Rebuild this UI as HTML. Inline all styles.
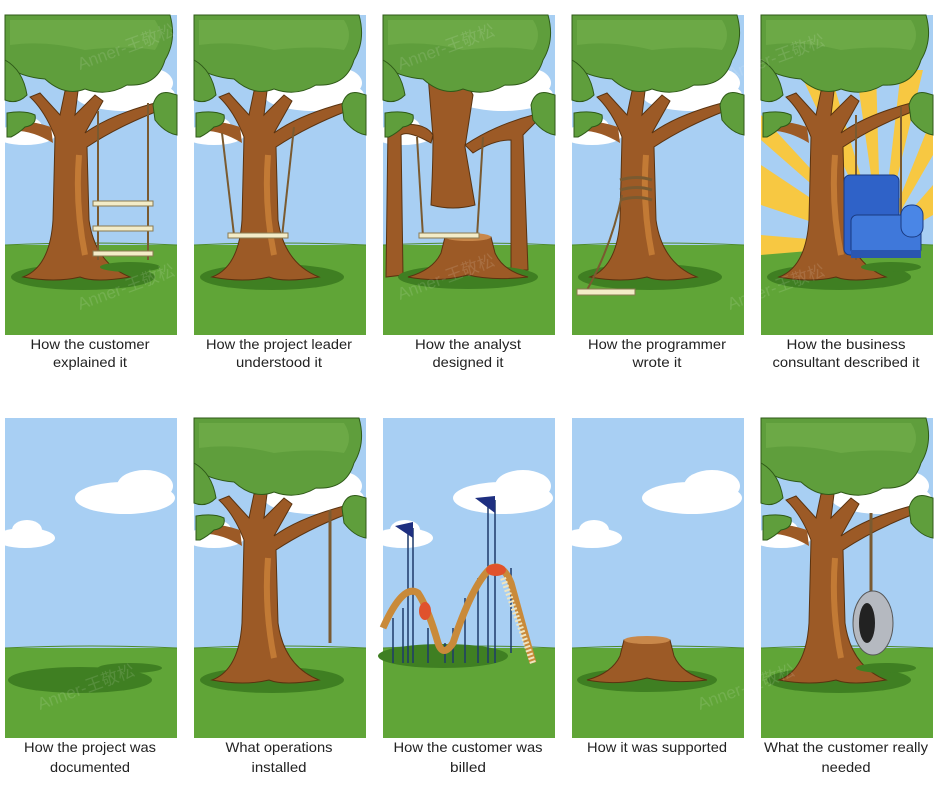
<!DOCTYPE html>
<html><head><meta charset="utf-8"><style>
html,body{margin:0;padding:0;background:#fff;}
svg{display:block}
text{font-family:"Liberation Sans","Noto Sans CJK SC",sans-serif;font-size:14px;fill:#222}
.wm{fill:#fff;opacity:.35;font-size:17px}
</style></head><body>
<svg width="952" height="786" viewBox="0 0 952 786" xmlns="http://www.w3.org/2000/svg">
<defs>
<g id="bg">
  <rect x="0" y="0" width="172" height="320" fill="#a8cff3"/>
  <rect x="0" y="230" width="172" height="90" fill="#60a537"/>
  <path d="M0,230 Q86,226 172,230" stroke="#4d8a2a" fill="none"/>
</g>
<g id="cloud1">
  <ellipse cx="120" cy="80" rx="50" ry="16" fill="#fff"/>
  <ellipse cx="140" cy="68" rx="28" ry="16" fill="#fff"/>
  <ellipse cx="20" cy="120" rx="30" ry="10" fill="#fff"/>
  <ellipse cx="22" cy="112" rx="15" ry="10" fill="#fff"/>
</g>
<g id="trunk">
  <ellipse cx="78" cy="262" rx="72" ry="13" fill="#3f7f22"/>
  <path d="M18,262 Q45,252 48,205 L50,122 Q40,96 25,82 L35,78 L55,100 L60,76 L73,76 L70,100 L90,80 L98,86 L80,118 Q105,100 150,88 L153,96 Q112,112 82,132 L84,205 Q90,248 125,262 Q90,268 75,262 Q50,268 18,262Z" fill="#9c5a26" stroke="#5a3310" stroke-width="1"/>
  <path d="M46,112 Q22,104 5,108 L5,116 Q25,114 48,128Z" fill="#9c5a26"/>
  <path d="M74,140 Q70,190 80,240" stroke="#c27a35" stroke-width="6" fill="none"/>
</g>
<g id="canopy">
  <path d="M0,0 H165 Q172,25 160,45 Q152,72 122,70 Q102,82 80,74 Q60,82 40,64 Q15,62 0,50Z" fill="#5f9e3c" stroke="#2f5a18"/>
  <path d="M5,5 H150 Q160,20 150,35 Q120,30 80,35 Q40,25 5,30Z" fill="#6ca946"/>
  <path d="M0,45 Q18,55 22,80 Q12,90 0,85Z" fill="#5f9e3c" stroke="#2f5a18"/>
  <path d="M2,98 Q20,95 30,100 Q32,110 20,112 Q14,118 6,122 L2,122Z" fill="#5f9e3c" stroke="#2f5a18"/>
  <path d="M148,90 Q152,75 165,78 L172,80 L172,120 Q160,118 150,105Z" fill="#5f9e3c" stroke="#2f5a18"/>
</g>
<g id="tree"><use href="#trunk"/><use href="#canopy"/></g>
<g id="stump">
  <ellipse cx="75" cy="262" rx="70" ry="12" fill="#3f7f22"/>
  <path d="M15,262 Q40,255 48,238 L52,222 Q75,218 98,222 L102,238 Q110,256 135,262 Q100,266 75,260 Q45,268 15,262Z" fill="#9c5a26" stroke="#5a3310"/>
  <ellipse cx="75" cy="222" rx="23" ry="4" fill="#c9884a"/>
</g>
</defs>

<!-- Row 1 -->
<g transform="translate(5,15)">
  <use href="#bg"/><use href="#cloud1"/><use href="#tree"/>
  <line x1="93" y1="96" x2="93" y2="245" stroke="#7a5a30" stroke-width="2"/>
  <line x1="143" y1="88" x2="143" y2="245" stroke="#7a5a30" stroke-width="2"/>
  <ellipse cx="125" cy="252" rx="30" ry="5" fill="#3f7f22"/>
  <rect x="88" y="186" width="60" height="5" fill="#f3ecc8" stroke="#8a7a50"/>
  <rect x="88" y="211" width="60" height="5" fill="#f3ecc8" stroke="#8a7a50"/>
  <rect x="88" y="236" width="60" height="5" fill="#f3ecc8" stroke="#8a7a50"/>
</g>
<g transform="translate(194,15)">
  <use href="#bg"/><use href="#cloud1"/><use href="#tree"/>
  <line x1="28" y1="118" x2="40" y2="220" stroke="#7a5a30" stroke-width="2"/>
  <line x1="100" y1="112" x2="88" y2="222" stroke="#7a5a30" stroke-width="2"/>
  <rect x="34" y="218" width="60" height="5" fill="#f3ecc8" stroke="#8a7a50"/>
</g>
<g transform="translate(383,15)">
  <use href="#bg"/><use href="#cloud1"/>
  <path d="M45,60 L50,122 Q50,150 48,190 Q70,196 92,190 Q85,150 82,132 L90,80 L80,60Z" fill="#9c5a26" stroke="#5a3310"/>
  <path d="M5,112 Q40,104 50,120 L48,128 Q25,115 18,120 L20,260 L3,262Z" fill="#9c5a26" stroke="#5a3310"/>
  <path d="M82,130 Q112,110 150,100 L152,108 Q145,115 140,120 L145,255 L128,255 L128,125 Q110,125 90,138Z" fill="#9c5a26" stroke="#5a3310"/>
  <use href="#stump" transform="translate(10,0)"/>
  <use href="#canopy"/>
  <line x1="34" y1="122" x2="40" y2="222" stroke="#7a5a30" stroke-width="2"/>
  <line x1="100" y1="122" x2="94" y2="222" stroke="#7a5a30" stroke-width="2"/>
  <rect x="36" y="218" width="60" height="5" fill="#f3ecc8" stroke="#8a7a50"/>
</g>
<g transform="translate(572,15)">
  <use href="#bg"/><use href="#cloud1"/><use href="#tree"/>
  <path d="M48,165 Q65,160 80,165 M48,175 Q65,170 80,175 M48,185 Q65,180 80,185" stroke="#7a5a30" stroke-width="3" fill="none"/>
  <path d="M50,180 Q40,230 15,275" stroke="#7a5a30" stroke-width="2" fill="none"/>
  <rect x="5" y="274" width="58" height="6" fill="#f3ecc8" stroke="#8a7a50"/>
</g>
<g transform="translate(761,15)">
  <use href="#bg"/>
  <g fill="#f7c842">
    <polygon points="120,230 0,150 0,190"/><polygon points="120,230 0,220 0,240"/>
    <polygon points="120,230 40,60 70,60"/><polygon points="120,230 95,55 115,55"/>
    <polygon points="120,230 140,55 162,55"/><polygon points="120,230 172,100 172,140"/>
    <polygon points="120,230 172,170 172,200"/><polygon points="120,230 0,100 0,125"/>
  </g>
  <use href="#tree"/>
  <line x1="95" y1="100" x2="95" y2="245" stroke="#7a5a30" stroke-width="2"/>
  <line x1="140" y1="92" x2="140" y2="220" stroke="#7a5a30" stroke-width="2"/>
  <ellipse cx="130" cy="252" rx="30" ry="5" fill="#3f7f22"/>
  <rect x="83" y="160" width="55" height="80" rx="6" fill="#2f62c8" stroke="#1a3a80"/>
  <rect x="90" y="200" width="70" height="40" rx="6" fill="#3f78da" stroke="#1a3a80"/>
  <rect x="140" y="190" width="22" height="32" rx="10" fill="#4a86e6" stroke="#1a3a80"/>
  <rect x="90" y="235" width="70" height="8" fill="#2a56b0"/>
</g>

<!-- Row 2 -->
<g transform="translate(5,418)">
  <use href="#bg"/><use href="#cloud1"/>
  <ellipse cx="75" cy="262" rx="72" ry="13" fill="#3f7f22"/>
  <ellipse cx="125" cy="250" rx="32" ry="5" fill="#3f7f22"/>
</g>
<g transform="translate(194,418)">
  <use href="#bg"/><use href="#cloud1"/><use href="#tree"/>
  <line x1="136" y1="92" x2="136" y2="225" stroke="#7a5a30" stroke-width="3"/>
</g>
<g transform="translate(383,418)">
  <use href="#bg"/><use href="#cloud1"/>
  <ellipse cx="60" cy="238" rx="65" ry="12" fill="#3f7f22"/>
  <g stroke="#1e3a6a" stroke-width="1.5">
    <line x1="25" y1="110" x2="25" y2="245"/><line x1="30" y1="110" x2="30" y2="245"/>
    <line x1="105" y1="82" x2="105" y2="245"/><line x1="112" y1="82" x2="112" y2="245"/>
    <line x1="10" y1="200" x2="10" y2="245"/><line x1="20" y1="190" x2="20" y2="245"/>
    <line x1="45" y1="210" x2="45" y2="245"/><line x1="62" y1="225" x2="62" y2="245"/>
    <line x1="70" y1="210" x2="70" y2="245"/><line x1="82" y1="180" x2="82" y2="245"/>
    <line x1="95" y1="160" x2="95" y2="245"/><line x1="128" y1="150" x2="128" y2="235"/>
  </g>
  <polygon points="12,108 30,104 30,120" fill="#1e2f80"/>
  <polygon points="92,80 112,78 112,95" fill="#1e2f80"/>
  <path d="M0,210 Q20,165 35,175 Q45,190 55,225 Q60,240 70,225 Q90,165 108,150 Q120,145 128,165 L150,245" stroke="#c98a3a" stroke-width="7" fill="none"/>
  <path d="M120,160 L150,245" stroke="#efe5c0" stroke-width="6" stroke-dasharray="2 2" fill="none"/>
  <ellipse cx="42" cy="193" rx="6" ry="9" fill="#e0522c"/>
  <ellipse cx="113" cy="152" rx="10" ry="6" fill="#e0522c"/>
</g>
<g transform="translate(572,418)">
  <use href="#bg"/><use href="#cloud1"/><use href="#stump"/>
</g>
<g transform="translate(761,418)">
  <use href="#bg"/><use href="#cloud1"/><use href="#tree"/>
  <line x1="110" y1="95" x2="110" y2="175" stroke="#7a5a30" stroke-width="3"/>
  <ellipse cx="125" cy="250" rx="30" ry="5" fill="#3f7f22"/>
  <ellipse cx="112" cy="205" rx="20" ry="32" fill="#b5b9c0" stroke="#555"/>
  <ellipse cx="106" cy="205" rx="8" ry="20" fill="#222"/>
</g>

<!-- watermark -->
<g class="wm">
  <text class="wm" x="80" y="70" transform="rotate(-20 80 70)">Anner-王敬松</text>
  <text class="wm" x="80" y="310" transform="rotate(-20 80 310)">Anner-王敬松</text>
  <text class="wm" x="400" y="70" transform="rotate(-20 400 70)">Anner-王敬松</text>
  <text class="wm" x="400" y="300" transform="rotate(-20 400 300)">Anner-王敬松</text>
  <text class="wm" x="730" y="80" transform="rotate(-20 730 80)">Anner-王敬松</text>
  <text class="wm" x="730" y="310" transform="rotate(-20 730 310)">Anner-王敬松</text>
  <text class="wm" x="40" y="710" transform="rotate(-20 40 710)">Anner-王敬松</text>
  <text class="wm" x="700" y="710" transform="rotate(-20 700 710)">Anner-王敬松</text>
</g>

<!-- captions -->
<g text-anchor="middle">
  <text x="90" y="349" textLength="119" lengthAdjust="spacingAndGlyphs">How the customer</text>
  <text x="90" y="367" textLength="74" lengthAdjust="spacingAndGlyphs">explained it</text>
  <text x="279" y="349" textLength="146" lengthAdjust="spacingAndGlyphs">How the project leader</text>
  <text x="279" y="367" textLength="86" lengthAdjust="spacingAndGlyphs">understood it</text>
  <text x="468" y="349" textLength="106" lengthAdjust="spacingAndGlyphs">How the analyst</text>
  <text x="468" y="367" textLength="71" lengthAdjust="spacingAndGlyphs">designed it</text>
  <text x="657" y="349" textLength="138" lengthAdjust="spacingAndGlyphs">How the programmer</text>
  <text x="657" y="367" textLength="49" lengthAdjust="spacingAndGlyphs">wrote it</text>
  <text x="846" y="349" textLength="119" lengthAdjust="spacingAndGlyphs">How the business</text>
  <text x="846" y="367" textLength="147" lengthAdjust="spacingAndGlyphs">consultant described it</text>

  <text x="90" y="752" textLength="132" lengthAdjust="spacingAndGlyphs">How the project was</text>
  <text x="90" y="772" textLength="80" lengthAdjust="spacingAndGlyphs">documented</text>
  <text x="279" y="752" textLength="107" lengthAdjust="spacingAndGlyphs">What operations</text>
  <text x="279" y="772" textLength="55" lengthAdjust="spacingAndGlyphs">installed</text>
  <text x="468" y="752" textLength="149" lengthAdjust="spacingAndGlyphs">How the customer was</text>
  <text x="468" y="772" textLength="36" lengthAdjust="spacingAndGlyphs">billed</text>
  <text x="657" y="752" textLength="140" lengthAdjust="spacingAndGlyphs">How it was supported</text>
  <text x="846" y="752" textLength="164" lengthAdjust="spacingAndGlyphs">What the customer really</text>
  <text x="846" y="772" textLength="49" lengthAdjust="spacingAndGlyphs">needed</text>
</g>
</svg>
</body></html>
